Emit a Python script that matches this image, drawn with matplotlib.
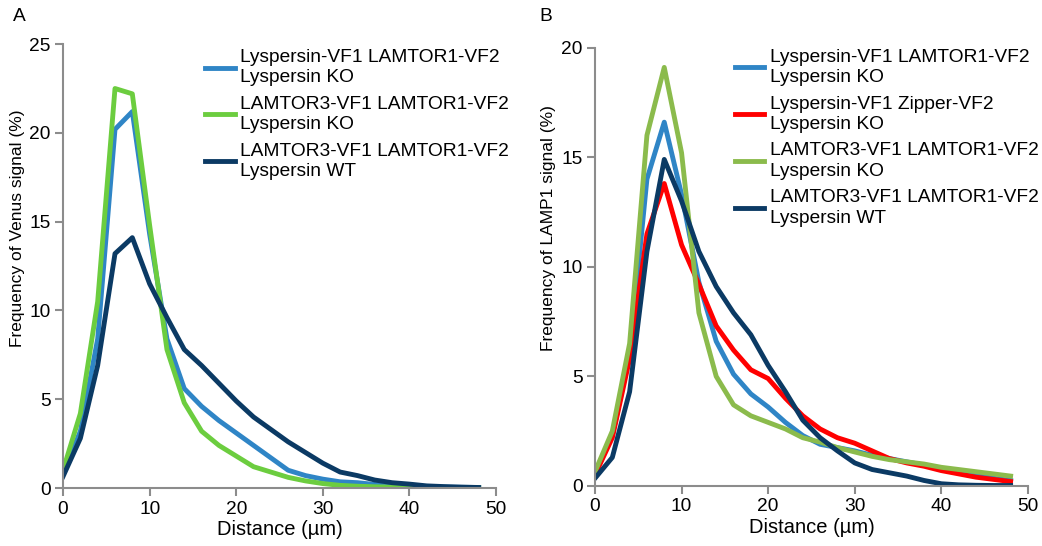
import matplotlib
matplotlib.use("Agg")
import matplotlib.pyplot as plt
import numpy as np

plt.rcParams['font.family'] = ['Liberation Sans', 'DejaVu Sans']

# distance bins (um)
distance = np.arange(0, 50, 2)

# panel A - Venus signal
venus_lys_ko = [0.8, 3.2, 8.4, 20.2, 21.2, 14.3, 8.4, 5.6, 4.6, 3.8, 3.1, 2.4, 1.7,
                1.0, 0.7, 0.5, 0.35, 0.3, 0.2, 0.15, 0.1, 0.07, 0.05, 0.04, 0.03]
venus_lamtor3_ko = [1.0, 4.2, 10.5, 22.5, 22.2, 14.8, 7.8, 4.8, 3.2, 2.4, 1.8, 1.2, 0.9,
                    0.6, 0.4, 0.25, 0.15, 0.1, 0.07, 0.05, 0.04, 0.03, 0.02, 0.02, 0.02]
venus_lamtor3_wt = [0.65, 2.8, 6.9, 13.2, 14.1, 11.5, 9.6, 7.8, 6.9, 5.9, 4.9, 4.0, 3.3,
                    2.6, 2.0, 1.4, 0.9, 0.7, 0.45, 0.3, 0.22, 0.12, 0.08, 0.05, 0.03]

# panel B - LAMP1 signal
lamp_lys_ko = [0.6, 2.3, 6.0, 14.0, 16.6, 13.3, 9.3, 6.6, 5.1, 4.2, 3.6, 2.9, 2.3,
               1.9, 1.75, 1.6, 1.4, 1.25, 1.1, 0.95, 0.8, 0.65, 0.5, 0.35, 0.25]
lamp_zipper_ko = [0.5, 2.2, 5.8, 11.5, 13.8, 11.0, 9.2, 7.3, 6.2, 5.3, 4.9, 4.0, 3.2,
                  2.6, 2.2, 1.95, 1.6, 1.25, 1.05, 0.9, 0.7, 0.55, 0.4, 0.3, 0.2]
lamp_lamtor3_ko = [0.65, 2.5, 6.5, 16.0, 19.1, 15.2, 7.9, 5.0, 3.7, 3.2, 2.9, 2.6, 2.2,
                   2.0, 1.75, 1.55, 1.35, 1.2, 1.1, 1.0, 0.85, 0.75, 0.65, 0.55, 0.45]
lamp_lamtor3_wt = [0.35, 1.3, 4.3, 10.7, 14.9, 13.0, 10.7, 9.1, 7.9, 6.9, 5.5, 4.3, 3.0,
                   2.2, 1.6, 1.05, 0.75, 0.6, 0.45, 0.25, 0.1, 0.05, 0.03, 0.02, 0.02]

labels_a = ["Lyspersin-VF1 LAMTOR1-VF2\nLyspersin KO",
            "LAMTOR3-VF1 LAMTOR1-VF2\nLyspersin KO",
            "LAMTOR3-VF1 LAMTOR1-VF2\nLyspersin WT"]
labels_b = ["Lyspersin-VF1 LAMTOR1-VF2\nLyspersin KO",
            "Lyspersin-VF1 Zipper-VF2\nLyspersin KO",
            "LAMTOR3-VF1 LAMTOR1-VF2\nLyspersin KO",
            "LAMTOR3-VF1 LAMTOR1-VF2\nLyspersin WT"]

blue = "#2f85c6"
navy = "#0b3a64"
green_a = "#6ccd3f"
green_b = "#8bbb4c"
red = "#ff0000"

fig = plt.figure(figsize=(10.42, 5.46), dpi=100)
ax1 = fig.add_axes([0.0605, 0.1062, 0.4155, 0.813])
ax2 = fig.add_axes([0.571, 0.110, 0.4155, 0.8027])

lw = 3.5
ax1.plot(distance, venus_lys_ko, color=blue, lw=lw, label=labels_a[0])
ax1.plot(distance, venus_lamtor3_ko, color=green_a, lw=lw, label=labels_a[1])
ax1.plot(distance, venus_lamtor3_wt, color=navy, lw=lw, label=labels_a[2])

ax2.plot(distance, lamp_lys_ko, color=blue, lw=lw, label=labels_b[0])
ax2.plot(distance, lamp_zipper_ko, color=red, lw=lw, label=labels_b[1])
ax2.plot(distance, lamp_lamtor3_ko, color=green_b, lw=lw, label=labels_b[2])
ax2.plot(distance, lamp_lamtor3_wt, color=navy, lw=lw, label=labels_b[3])

fs = 13.8
setup = [(ax1, 25, "Frequency of Venus signal (%)", (0.31, 1.006), (-0.088, 0.585)),
         (ax2, 20, "Frequency of LAMP1 signal (%)", (0.305, 1.015), (-0.09, 0.589))]
for ax, ymax, ylab, anchor, lab_xy in setup:
    ax.set_xlim(0, 50)
    ax.set_ylim(0, ymax)
    ax.set_xticks(range(0, 51, 10))
    ax.set_yticks(range(0, ymax + 1, 5))
    for s in ["top", "right"]:
        ax.spines[s].set_visible(False)
    for s in ["left", "bottom"]:
        ax.spines[s].set_color("#8c8c8c")
        ax.spines[s].set_linewidth(1.5)
    ax.tick_params(direction="out", length=6, width=1.5, color="#8c8c8c",
                   labelsize=fs, pad=3)
    ax.set_xlabel("Distance (µm)", fontsize=14.5, labelpad=2)
    # the y label is squeezed in the original figure
    ax.set_ylabel(ylab, fontsize=12.5, family=["Liberation Sans Narrow", "Liberation Sans"])
    ax.yaxis.set_label_coords(*lab_xy)
    leg = ax.legend(loc="upper left", bbox_to_anchor=anchor, frameon=False,
                    fontsize=fs, handlelength=1.55, handletextpad=0.3,
                    labelspacing=0.5, borderaxespad=0)
    for t in leg.get_texts():
        t.set_linespacing(1.25)

fig.text(0.012, 0.962, "A", fontsize=fs)
fig.text(0.518, 0.962, "B", fontsize=fs)

fig.savefig("out.png", dpi=100)
